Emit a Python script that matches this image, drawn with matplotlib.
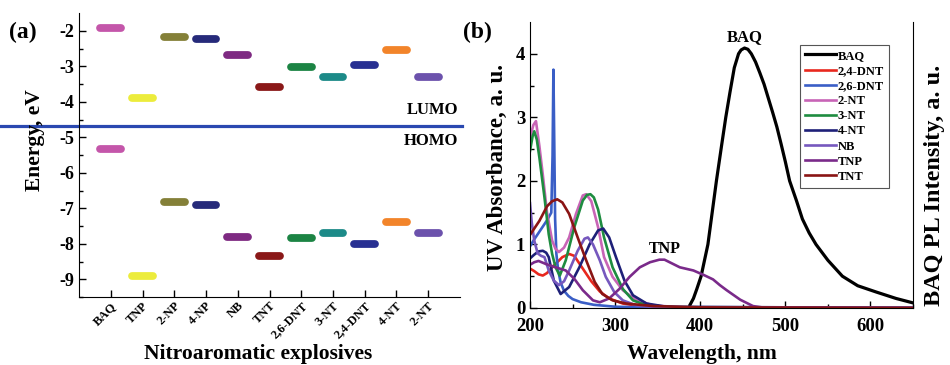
# -*- coding: utf-8 -*-

import matplotlib; matplotlib.use('Agg')
import matplotlib.pyplot as plt

# --------------------------
# --- data

# - panel (a): frontier orbital energies
molecules = ['BAQ', 'TNP', '2-NP', '4-NP', 'NB', 'TNT', '2,6-DNT', '3-NT', '2,4-DNT', '4-NT', '2-NT']
lumo = [-1.92, -3.88, -2.17, -2.22, -2.69, -3.59, -3.03, -3.31, -2.97, -2.53, -3.31]
homo = [-5.33, -8.91, -6.83, -6.91, -7.82, -8.34, -7.85, -7.70, -8.00, -7.40, -7.70]
bar_colors = ['#c456aa', '#ecec3c', '#848038', '#262a7a', '#7e2a82', '#8a1818',
              '#1c8444', '#1c8a88', '#283092', '#f2842a', '#6c52ac']
baq_level = -4.67

# - panel (b): UV absorbance + BAQ photoluminescence
baq_wl = [388, 392, 396, 401, 405, 409, 414, 419, 425, 430, 435, 440, 445, 448, 452, 456,
          460, 465, 470, 475, 480, 485, 490, 495, 500, 505, 513, 520, 528, 536, 550, 567,
          585, 607, 630, 650]
baq_pl = [0.05, 0.15, 0.3, 0.5, 0.75, 1.0, 1.5, 2.0, 2.55, 3.0, 3.4, 3.78, 4.0, 4.06, 4.09, 4.07,
          4.0, 3.87, 3.7, 3.52, 3.3, 3.08, 2.85, 2.58, 2.3, 2.0, 1.69, 1.4, 1.18, 1.0, 0.75, 0.5,
          0.35, 0.25, 0.15, 0.08]

dnt24_wl = [200, 205, 210, 215, 220, 226, 232, 238, 246, 252, 262, 272, 282, 293, 309, 329, 360, 650]
dnt24_ab = [0.62, 0.58, 0.53, 0.51, 0.55, 0.64, 0.72, 0.8, 0.85, 0.82, 0.62, 0.42, 0.26, 0.15, 0.07, 0.03, 0.01, 0.0]

dnt26_wl = [200, 205, 210, 215, 220, 225, 226.5, 227.5, 228.5, 229.5, 231, 233, 236, 240, 245, 250, 260, 275, 300, 350, 650]
dnt26_ab = [0.97, 1.08, 1.18, 1.28, 1.38, 1.5, 2.4, 3.75, 2.6, 1.4, 0.85, 0.6, 0.4, 0.27, 0.19, 0.14, 0.09, 0.05, 0.02, 0.005, 0.0]

nt2_wl = [200, 204, 207, 211, 215, 220, 226, 230, 234, 240, 246, 254, 262, 266, 272, 280, 287, 297, 309, 325, 345, 380, 650]
nt2_ab = [2.68, 2.88, 2.94, 2.55, 2.1, 1.5, 1.06, 0.93, 0.88, 0.95, 1.11, 1.48, 1.77, 1.79, 1.68, 1.27, 0.8, 0.49, 0.28, 0.12, 0.04, 0.01, 0.0]

nt3_wl = [200, 203, 205, 208, 211, 217, 222, 226, 230, 235, 242, 252, 262, 267, 271, 275, 280, 287, 297, 309, 321, 337, 370, 650]
nt3_ab = [2.47, 2.7, 2.78, 2.65, 2.37, 1.74, 1.16, 0.85, 0.64, 0.51, 0.75, 1.27, 1.69, 1.78, 1.79, 1.74, 1.55, 1.11, 0.64, 0.3, 0.12, 0.04, 0.01, 0.0]

nt4_wl = [200, 205, 210, 215, 219, 222, 228, 236, 246, 258, 270, 280, 286, 293, 301, 311, 321, 337, 360, 650]
nt4_ab = [0.78, 0.84, 0.89, 0.9, 0.87, 0.8, 0.43, 0.22, 0.33, 0.64, 1.0, 1.22, 1.25, 1.11, 0.8, 0.43, 0.2, 0.07, 0.02, 0.0]

nb_wl = [200, 202, 205, 209, 213, 217, 222, 228, 234, 240, 246, 256, 264, 268, 274, 282, 289, 299, 309, 325, 350, 650]
nb_ab = [1.65, 1.35, 1.06, 0.86, 0.82, 0.8, 0.59, 0.43, 0.36, 0.42, 0.59, 0.9, 1.09, 1.11, 1.0, 0.75, 0.49, 0.25, 0.12, 0.04, 0.01, 0.0]

tnp_wl = [200, 205, 210, 219, 230, 242, 252, 262, 274, 282, 293, 305, 317, 329, 341, 352, 358, 364, 376, 392, 404, 415, 423, 431, 447, 462, 475, 650]
tnp_ab = [0.68, 0.72, 0.74, 0.69, 0.64, 0.59, 0.46, 0.28, 0.12, 0.09, 0.15, 0.3, 0.49, 0.64, 0.72, 0.76, 0.76, 0.72, 0.64, 0.59, 0.52, 0.45, 0.36, 0.28, 0.13, 0.03, 0.005, 0.0]

tnt_wl = [200, 205, 211, 220, 226, 232, 238, 246, 256, 266, 276, 285, 297, 313, 345, 400, 650]
tnt_ab = [1.15, 1.25, 1.37, 1.6, 1.68, 1.71, 1.66, 1.48, 1.11, 0.75, 0.41, 0.22, 0.12, 0.07, 0.03, 0.01, 0.0]

uv_series = [
    ('BAQ', baq_wl, baq_pl, 'black'),
    ('2,4-DNT', dnt24_wl, dnt24_ab, '#e8281e'),
    ('2,6-DNT', dnt26_wl, dnt26_ab, '#3a5ec6'),
    ('2-NT', nt2_wl, nt2_ab, '#c864b6'),
    ('3-NT', nt3_wl, nt3_ab, '#1e8c40'),
    ('4-NT', nt4_wl, nt4_ab, '#1e2078'),
    ('NB', nb_wl, nb_ab, '#7658be'),
    ('TNP', tnp_wl, tnp_ab, '#7a2a8a'),
    ('TNT', tnt_wl, tnt_ab, '#8a1414'),
]

# --------------------------
# --- style

plt.rcParams['font.family'] = ['Liberation Serif', 'DejaVu Serif']
plt.rcParams['font.weight'] = 'bold'
plt.rcParams['axes.labelweight'] = 'bold'
plt.rcParams['xtick.direction'] = 'in'
plt.rcParams['ytick.direction'] = 'in'

fig = plt.figure(figsize=(9.5, 3.65), dpi=100)

# --------------------------
# --- panel (a)

ax1 = fig.add_axes([0.0832, 0.1863, 0.401, 0.778])
xpos = list(range(1, len(molecules) + 1))
half = 0.33
for x, lu, ho, c in zip(xpos, lumo, homo, bar_colors):
    ax1.plot([x - half, x + half], [lu, lu], color=c, lw=5.6, solid_capstyle='round')
    ax1.plot([x - half, x + half], [ho, ho], color=c, lw=5.6, solid_capstyle='round')

ax1.axhline(baq_level, xmin=-79 / 381, xmax=383 / 381, color='#2a48b0', lw=2.3,
            clip_on=False, zorder=0)
ax1.text(11.95, baq_level + 0.22, 'LUMO', ha='right', va='bottom', fontsize=12, fontweight='bold')
ax1.text(11.95, baq_level - 0.22, 'HOMO', ha='right', va='top', fontsize=12, fontweight='bold')

ax1.set_xlim(0, 12)
ax1.set_ylim(-9.5, -1.5)
ax1.set_xticks(xpos)
ax1.set_xticklabels(molecules, rotation=45, ha='right', rotation_mode='anchor', fontsize=9)
ax1.set_yticks([-9, -8, -7, -6, -5, -4, -3, -2])
ax1.set_yticklabels(['-9', '-8', '-7', '-6', '-5', '-4', '-3', '-2'], fontsize=13)
ax1.set_yticks([-9.5 + 0.5 * i for i in range(16)], minor=True)
ax1.tick_params(axis='both', which='major', length=5, width=1)
ax1.tick_params(axis='x', which='major', pad=2)
ax1.tick_params(axis='y', which='minor', length=3, width=1)
ax1.spines['top'].set_visible(False)
ax1.spines['right'].set_visible(False)
ax1.set_ylabel('Energy, eV', fontsize=15.5)
ax1.yaxis.set_label_coords(-0.09, 0.553)
ax1.set_xlabel('Nitroaromatic explosives', fontsize=15.5)
ax1.xaxis.set_label_coords(0.47, -0.165)

fig.text(0.010, 0.912, '(a)', fontsize=17, fontweight='bold', va='center')

# --------------------------
# --- panel (b)

ax2 = fig.add_axes([0.5579, 0.1562, 0.4032, 0.7836])
for name, wl, ab, c in uv_series:
    lw = 2.3 if name == 'BAQ' else 1.9
    ax2.plot(wl, ab, color=c, lw=lw, label=name)

ax2.set_xlim(200, 650)
ax2.set_ylim(0, 4.5)
ax2.set_xticks([200, 300, 400, 500, 600])
ax2.set_xticks([250, 350, 450, 550, 650], minor=True)
ax2.set_yticks([0, 1, 2, 3, 4])
ax2.set_yticks([0.5, 1.5, 2.5, 3.5], minor=True)
ax2.tick_params(axis='both', which='major', length=5, width=1, labelsize=13.5)
ax2.tick_params(axis='x', which='major', pad=7)
ax2.tick_params(axis='both', which='minor', length=3, width=1)
ax2.spines['top'].set_visible(False)
ax2.set_xlabel('Wavelength, nm', fontsize=15.5)
ax2.xaxis.set_label_coords(0.45, -0.125)
ax2.set_ylabel('UV Absorbance, a. u.', fontsize=16.5)
ax2.yaxis.set_label_coords(-0.058, 0.49)

ax2.text(452, 4.14, 'BAQ', ha='center', va='bottom', fontsize=12, fontweight='bold')
ax2.text(358, 0.8, 'TNP', ha='center', va='bottom', fontsize=11.5, fontweight='bold')

leg = ax2.legend(loc='upper right', bbox_to_anchor=(0.937, 0.92), fontsize=9,
                 frameon=True, fancybox=False, edgecolor='#555555', framealpha=1,
                 handlelength=2.5, handletextpad=0.15, labelspacing=0.25,
                 borderpad=0.4, borderaxespad=0)
leg.get_frame().set_linewidth(0.8)
for t in leg.get_texts():
    t.set_fontweight('bold')

fig.text(0.984, 0.493, 'BAQ PL Intensity, a. u.', rotation=90, fontsize=17.5,
         fontweight='bold', ha='center', va='center')
fig.text(0.487, 0.912, '(b)', fontsize=17, fontweight='bold', va='center')

plt.savefig('out.png', dpi=100)
